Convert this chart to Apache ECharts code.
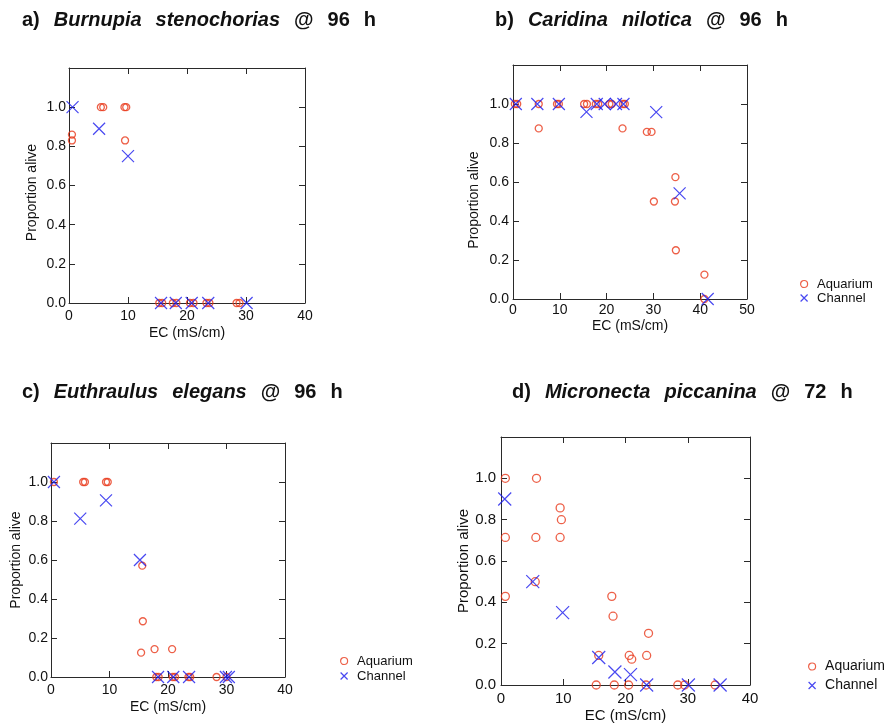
<!DOCTYPE html>
<html>
<head>
<meta charset="utf-8">
<script src="https://cdn.jsdelivr.net/npm/echarts@6/dist/echarts.min.js"></script>
<style>
  html, body { margin: 0; padding: 0; background: #fff; }
  #chart { width: 891px; height: 724px; }
</style>
</head>
<body>
<div id="chart"></div>
<script>
// Survival (proportion alive) against electrical conductivity, four taxa.
// Each point is [EC in mS/cm, proportion alive].

const yTicks = [0, 0.2, 0.4, 0.6, 0.8, 1.0];

// a) Burnupia stenochorias @ 96 h
const burnupiaAquarium = [
  [0.5, 0.86], [0.5, 0.83], [5.4, 1.0], [5.8, 1.0], [9.4, 1.0], [9.7, 1.0], [9.5, 0.83],
  [15.3, 0], [15.8, 0], [17.6, 0], [18.2, 0], [20.5, 0], [21.1, 0],
  [23.3, 0], [23.8, 0], [28.4, 0], [28.9, 0]
];
const burnupiaChannel = [
  [0.6, 1.0], [5.1, 0.89], [10.0, 0.75],
  [15.6, 0], [18.1, 0], [20.8, 0], [23.6, 0], [30.1, 0]
];

// b) Caridina nilotica @ 96 h
const caridinaAquarium = [
  [0.4, 1.0], [0.9, 1.0], [5.5, 1.0], [5.5, 0.875], [9.4, 1.0], [9.8, 1.0],
  [15.2, 1.0], [15.8, 1.0], [17.7, 1.0], [18.2, 1.0], [20.6, 1.0], [21.1, 1.0],
  [23.5, 1.0], [23.9, 1.0], [23.4, 0.875], [28.6, 0.857], [29.6, 0.857],
  [30.1, 0.5], [34.7, 0.625], [34.6, 0.5], [34.8, 0.25], [40.9, 0.125], [40.9, 0]
];
const caridinaChannel = [
  [0.6, 1.0], [5.2, 1.0], [9.8, 1.0], [15.7, 0.96], [17.9, 1.0], [19.6, 1.0],
  [22.0, 1.0], [23.6, 1.0], [30.6, 0.958], [35.6, 0.542], [41.6, 0]
];

// c) Euthraulus elegans @ 96 h
const euthraulusAquarium = [
  [0.5, 1.0], [5.5, 1.0], [5.8, 1.0], [9.4, 1.0], [9.7, 1.0],
  [15.6, 0.571], [15.7, 0.286], [15.4, 0.125], [17.7, 0.143], [20.7, 0.143],
  [18.0, 0], [18.4, 0], [20.8, 0], [21.2, 0], [23.5, 0], [23.8, 0], [28.3, 0], [30.0, 0]
];
const euthraulusChannel = [
  [0.5, 1.0], [5.0, 0.812], [9.4, 0.906], [15.2, 0.6],
  [18.3, 0], [20.9, 0], [23.6, 0], [29.9, 0], [30.4, 0]
];

// d) Micronecta piccanina @ 72 h
const micronectaAquarium = [
  [0.7, 1.0], [0.7, 0.714], [0.7, 0.429], [5.7, 1.0], [5.6, 0.714], [5.5, 0.5],
  [9.5, 0.857], [9.7, 0.8], [9.5, 0.714], [17.8, 0.429], [18.0, 0.333],
  [15.7, 0.143], [20.6, 0.143], [21.0, 0.125], [23.7, 0.25], [23.4, 0.143],
  [15.3, 0], [18.2, 0], [20.5, 0], [23.3, 0], [28.4, 0], [29.5, 0], [34.4, 0]
];
const micronectaChannel = [
  [0.6, 0.9], [5.1, 0.5], [9.9, 0.35], [15.7, 0.133], [18.3, 0.063],
  [20.8, 0.05], [23.4, 0], [30.1, 0], [35.2, 0]
];

const RED = '#e8381a';
const BLUE = '#1a1aee';
const AXIS = '#2a2a2a';
const FONT = 'Liberation Sans, Arial, sans-serif';
const CROSS = 'path://M0,0L10,10M10,0L0,10';

// yNameShift moves the rotated y-axis title down along the axis (px)
const panels = [
  { title: ['a)', '*Burnupia', '*stenochorias', '@', '96', 'h'], tx: 22, ty: 10,
    grid: { left: 69, top: 68, width: 236, height: 235 }, xMax: 40,
    aq: burnupiaAquarium, ch: burnupiaChannel, fs: 14, nfs: 14, cs: 7, xs: 12,
    xMargin: 6, yMargin: 3, nameGapX: 23.5, nameGapY: 30, yNameShift: 7, legend: null },
  { title: ['b)', '*Caridina', '*nilotica', '@', '96', 'h'], tx: 495, ty: 10,
    grid: { left: 513, top: 65, width: 234, height: 234 }, xMax: 50,
    aq: caridinaAquarium, ch: caridinaChannel, fs: 14, nfs: 14, cs: 7, xs: 12,
    xMargin: 4, yMargin: 4, nameGapX: 20.5, nameGapY: 32, yNameShift: 18,
    legend: { left: 800, top: 277, gap: 0, fs: 13, lh: 14 } },
  { title: ['c)', '*Euthraulus', '*elegans', '@', '96', 'h'], tx: 22, ty: 382,
    grid: { left: 51, top: 443, width: 234, height: 234 }, xMax: 40,
    aq: euthraulusAquarium, ch: euthraulusChannel, fs: 14, nfs: 14, cs: 7, xs: 12,
    xMargin: 6, yMargin: 3, nameGapX: 23.5, nameGapY: 28, yNameShift: 0,
    legend: { left: 340, top: 654, gap: 1, fs: 13, lh: 14 } },
  { title: ['d)', '*Micronecta', '*piccanina', '@', '72', 'h'], tx: 512, ty: 382,
    grid: { left: 501, top: 437, width: 249, height: 249 }, xMax: 40,
    aq: micronectaAquarium, ch: micronectaChannel, fs: 15, nfs: 15, cs: 8, xs: 13,
    xMargin: 6, yMargin: 5, nameGapX: 23, nameGapY: 30, yNameShift: 0,
    legend: { left: 808, top: 659, gap: 4, fs: 14, lh: 15 } }
];

const option = {
  backgroundColor: '#ffffff',
  animation: false,
  title: [], grid: [], xAxis: [], yAxis: [], legend: [], series: []
};

panels.forEach((p, i) => {
  // Title: bold label, italic species name, wide word spacing
  const words = p.title.map(w => w.startsWith('*') ? '{i|' + w.slice(1) + '}' : '{b|' + w + '}');
  option.title.push({
    left: p.tx, top: p.ty, padding: 0,
    text: words.join('{g| }'),
    textStyle: {
      fontFamily: FONT, fontSize: 20, fontWeight: 'bold', color: '#111',
      rich: {
        b: { fontFamily: FONT, fontSize: 20, fontWeight: 'bold', color: '#111' },
        i: { fontFamily: FONT, fontSize: 20, fontWeight: 'bold', fontStyle: 'italic', color: '#111' },
        g: { fontFamily: FONT, fontSize: 20, width: 14 }
      }
    }
  });

  option.grid.push(Object.assign({ containLabel: false, show: false }, p.grid));

  const tickStyle = { show: true, inside: true, length: 6, lineStyle: { color: AXIS, width: 1 } };
  const lineStyle = { show: true, onZero: false, lineStyle: { color: AXIS, width: 1 } };

  option.xAxis.push({
    gridIndex: i, type: 'value', position: 'bottom', min: 0, max: p.xMax, interval: 10,
    axisLine: lineStyle, axisTick: tickStyle, splitLine: { show: false },
    axisLabel: { color: '#111', fontFamily: FONT, fontSize: p.fs, margin: p.xMargin,
                 formatter: v => String(Math.round(v)) },
    name: 'EC (mS/cm)', nameLocation: 'middle', nameGap: p.nameGapX,
    nameTextStyle: { color: '#111', fontFamily: FONT, fontSize: p.fs }
  });
  option.xAxis.push({
    gridIndex: i, type: 'value', position: 'top', min: 0, max: p.xMax, interval: 10,
    axisLine: lineStyle, axisTick: tickStyle, axisLabel: { show: false }, splitLine: { show: false }
  });
  option.yAxis.push({
    gridIndex: i, type: 'value', position: 'left', min: 0, max: 1.2, interval: 0.2,
    axisLine: lineStyle, axisTick: tickStyle, splitLine: { show: false },
    axisLabel: { color: '#111', fontFamily: FONT, fontSize: p.fs, margin: p.yMargin,
                 formatter: v => (v > 1.05 ? '' : yTicks.find(t => Math.abs(t - v) < 1e-6).toFixed(1)) },
    name: 'Proportion alive', nameLocation: 'middle', nameGap: p.nameGapY,
    nameTextStyle: { color: '#111', fontFamily: FONT, fontSize: p.nfs,
                     padding: [0, 2 * p.yNameShift, 0, 0] }
  });
  option.yAxis.push({
    gridIndex: i, type: 'value', position: 'right', min: 0, max: 1.2, interval: 0.2,
    axisLine: lineStyle, axisTick: tickStyle, axisLabel: { show: false }, splitLine: { show: false }
  });

  option.series.push({
    type: 'scatter', name: 'Aquarium', xAxisIndex: 2 * i, yAxisIndex: 2 * i,
    data: p.aq, symbol: 'circle', symbolSize: p.cs,
    itemStyle: { color: 'rgba(0,0,0,0)', borderColor: RED, borderWidth: 1.3 }, z: 2
  });
  option.series.push({
    type: 'scatter', name: 'Channel', xAxisIndex: 2 * i, yAxisIndex: 2 * i,
    data: p.ch, symbol: CROSS, symbolSize: p.xs,
    itemStyle: { color: 'rgba(0,0,0,0)', borderColor: BLUE, borderWidth: 1.2 }, z: 3
  });

  if (p.legend) {
    option.legend.push({
      left: p.legend.left, top: p.legend.top, orient: 'vertical', padding: 0,
      itemWidth: 8, itemHeight: 7, itemGap: p.legend.gap, selectedMode: false,
      textStyle: { color: '#111', fontFamily: FONT, fontSize: p.legend.fs,
                   lineHeight: p.legend.lh, padding: [0, 0, 0, 4] },
      data: [
        { name: 'Aquarium', icon: 'circle',
          itemStyle: { color: 'rgba(0,0,0,0)', borderColor: RED, borderWidth: 1.2 } },
        { name: 'Channel', icon: CROSS,
          itemStyle: { color: 'rgba(0,0,0,0)', borderColor: BLUE, borderWidth: 1.2 } }
      ]
    });
  }
});

const chart = echarts.init(document.getElementById('chart'), null, { renderer: 'canvas' });
chart.setOption(option);
</script>
</body>
</html>
